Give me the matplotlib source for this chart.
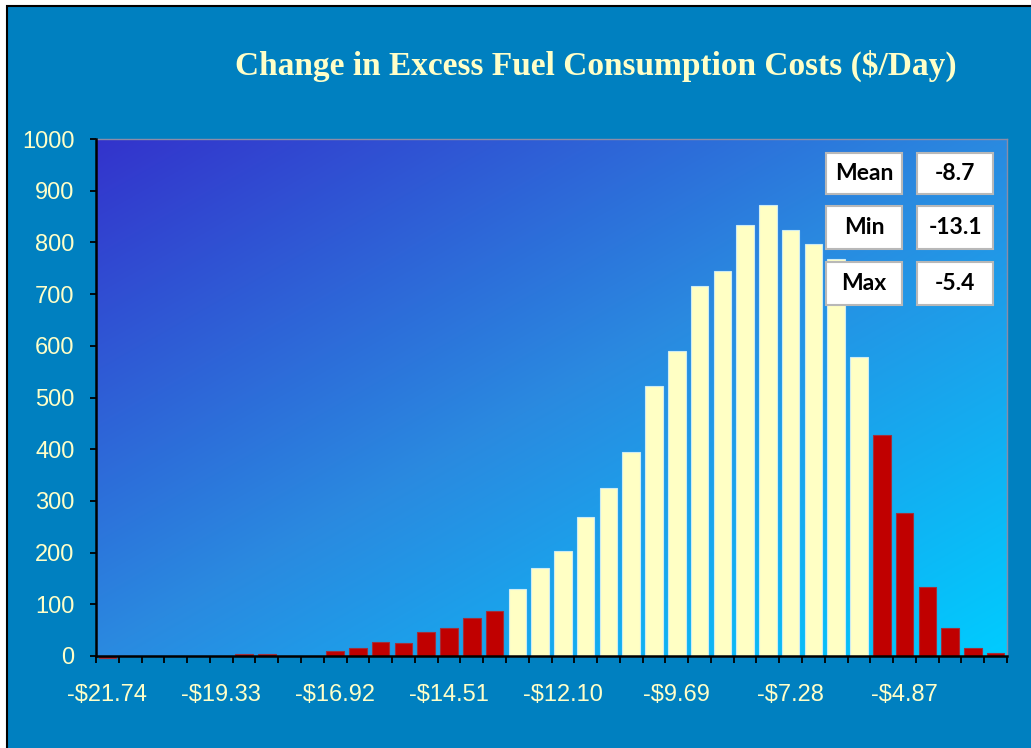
import matplotlib.pyplot as plt
import numpy as np
from matplotlib.patches import Rectangle

# Histogram counts per bin (40 bins)
counts = [-3, 0, 0, 0, 0, 0, 4, 4, 0, 0,
          10, 16, 28, 25, 46, 55, 73, 88, 130, 170,
          203, 269, 324, 394, 523, 590, 715, 745, 833, 872,
          824, 797, 767, 579, 427, 276, 134, 54, 16, 6]
# bins 18..33 are inside the band, the rest are tails
in_band = [False] * 18 + [True] * 16 + [False] * 6

tick_labels = ['-$21.74', '-$19.33', '-$16.92', '-$14.51',
               '-$12.10', '-$9.69', '-$7.28', '-$4.87']
tick_bins = [0, 5, 10, 15, 20, 25, 30, 35]

stat_names = ['Mean', 'Min', 'Max']
stat_values = ['-8.7', '-13.1', '-5.4']

title = 'Change in Excess Fuel Consumption Costs ($/Day)'

yellow_txt = '#FFFFC8'
bg_blue = '#0080C0'
bar_red = '#C00000'
bar_yellow = '#FFFFC4'

W, H = 1031, 748
fig = plt.figure(figsize=(W / 100, H / 100), dpi=100, facecolor='white')

# blue frame with black border on left/top
fig.patches.append(Rectangle((7 / W, -0.05), 1.1, 1 - 6 / H + 0.05,
                             transform=fig.transFigure, facecolor=bg_blue,
                             edgecolor='black', linewidth=1.5, zorder=-5))

ax = fig.add_axes([96 / W, 1 - 656 / H, (1007 - 96) / W, (656 - 139) / H])
ax.set_facecolor('none')

# diagonal gradient of the plot area (three stops)
stops = np.array([0.0, 0.5, 1.0])
stop_cols = np.array([[0x33, 0x33, 0xCC],
                      [0x2A, 0x8A, 0xE0],
                      [0x00, 0xCC, 0xFF]]) / 255
gw, gh = 400, 300
u = np.linspace(0, 1, gw)[None, :]
v = np.linspace(0, 1, gh)[:, None]
t = (u + v) / 2
grad = np.stack([np.interp(t, stops, stop_cols[:, i]) for i in range(3)], axis=-1)
ax.imshow(grad, extent=(0, 1, 0, 1), transform=ax.transAxes,
          aspect='auto', origin='upper', zorder=0)

x = np.arange(len(counts))
colors = [bar_yellow if b else bar_red for b in in_band]
edges = ['#CDEBF2' if b else '#A0303C' for b in in_band]
ax.bar(x, counts, width=0.77, color=colors, edgecolor=edges,
       linewidth=0.8, zorder=2, clip_on=False)

ax.set_xlim(-0.5, len(counts) - 0.5)
ax.set_ylim(0, 1000)

ax.set_yticks(range(0, 1001, 100))
ax.tick_params(axis='y', direction='out', length=4.5, width=1.3,
               color='black', labelcolor=yellow_txt, labelsize=17, pad=11)

ax.set_xticks(np.arange(-0.5, len(counts), 1.0))
ax.set_xticklabels([])
ax.tick_params(axis='x', which='major', direction='out', length=5,
               width=1.3, color='black')
ax.set_xticks(tick_bins, minor=True)
ax.set_xticklabels(tick_labels, minor=True)
ax.tick_params(axis='x', which='minor', length=0, labelcolor=yellow_txt,
               labelsize=17, pad=20)

for lab in ax.get_xticklabels(minor=True) + ax.get_yticklabels():
    lab.set_fontfamily(['Liberation Sans', 'DejaVu Sans'])

for s in ['left', 'bottom']:
    ax.spines[s].set_color('black')
    ax.spines[s].set_linewidth(1.8)
    ax.spines[s].set_zorder(3)
for s in ['top', 'right']:
    ax.spines[s].set_color('#8C8CA8')
    ax.spines[s].set_linewidth(1.0)

fig.text(596 / W, 1 - 66 / H, title, ha='center', va='center',
         color=yellow_txt, fontsize=24, fontweight='bold',
         family=['Liberation Serif', 'DejaVu Serif'])

# stat boxes in the upper right
box_rows = [(153, 194), (206, 249), (262, 305)]
for (top, bot), name, val in zip(box_rows, stat_names, stat_values):
    for (left, right), txt in [((826, 902), name), ((917, 993), val)]:
        fig.patches.append(Rectangle((left / W, 1 - bot / H),
                                     (right - left) / W, (bot - top) / H,
                                     transform=fig.transFigure,
                                     facecolor='white', edgecolor='#B8B8B8',
                                     linewidth=1.5, zorder=5))
        fig.text((left + right) / 2 / W, 1 - (top + bot) / 2 / H, txt,
                 ha='center', va='center', fontsize=16.5, fontweight='bold',
                 color='black', family=['Lato', 'DejaVu Sans'], zorder=6)

fig.savefig('out.png', dpi=100, facecolor=fig.get_facecolor())
